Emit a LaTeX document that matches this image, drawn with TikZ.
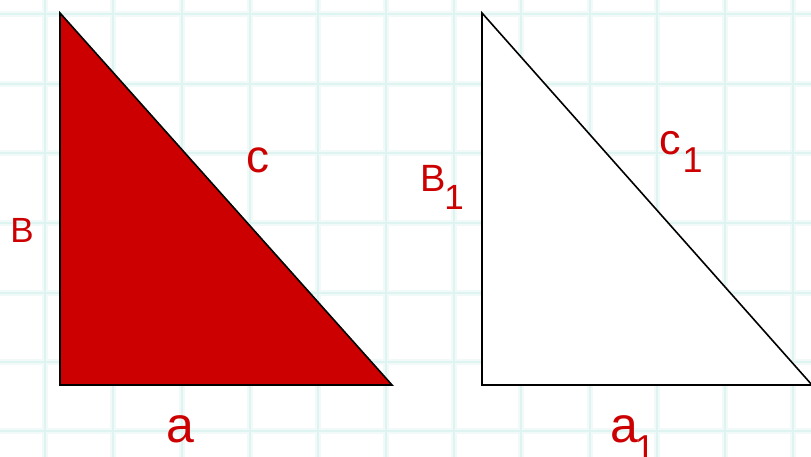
\documentclass[tikz,border=0pt]{standalone}
\usepackage{fontspec}
\setmainfont{Liberation Sans}
\definecolor{redfill}{RGB}{204,0,0}
\definecolor{gridc}{RGB}{222,244,241}
\definecolor{gridsoft}{RGB}{242,250,249}
\begin{document}
\begin{tikzpicture}[x=1pt,y=-1pt,
  gridsoftline/.style={draw=gridsoft,line width=6pt},
  gridline/.style={draw=gridc,line width=1.8pt},
  tri/.style={draw=black,line width=1.6pt,line join=miter},
  lbl/.style={text=redfill,inner sep=0pt,outer sep=0pt}]
\useasboundingbox (0,0) rectangle (811,457);
\fill[white] (0,0) rectangle (811,457);
% grid
\foreach \gx in {45,113,182,250,318,386,454,521,590,657,725,793}{
  \draw[gridsoftline] (\gx,0) -- (\gx,457);}
\foreach \gy in {14,84,153,223,293,362,431}{
  \draw[gridsoftline] (0,\gy) -- (811,\gy);}
\foreach \gx in {45,113,182,250,318,386,454,521,590,657,725,793}{
  \draw[gridline] (\gx,0) -- (\gx,457);}
\foreach \gy in {14,84,153,223,293,362,431}{
  \draw[gridline] (0,\gy) -- (811,\gy);}
% triangles
\coordinate (ta) at (60,13);
\coordinate (tb) at (60,385);
\coordinate (tc) at (392,385);
\coordinate (ua) at (482,13);
\coordinate (ub) at (482,385);
\coordinate (uc) at (812,385);
\draw[tri,fill=redfill] (ta) -- (tb) -- (tc) -- cycle;
\draw[tri,fill=white] (ua) -- (ub) -- (uc) -- cycle;
% labels
\node[lbl,anchor=base,font=\fontsize{35}{35}\selectfont] (lB) at (22,243) {B};
\node[lbl,anchor=base,font=\fontsize{50}{50}\selectfont] (la) at (180,442) {a};
\node[lbl,anchor=base,font=\fontsize{46}{46}\selectfont] (lc) at (257.5,173) {c};
\node[lbl,anchor=base west,font=\fontsize{38}{38}\selectfont] (lB1) at (420,192)
  {B\kern-1pt\raisebox{-18pt}{\fontsize{35}{35}\selectfont 1}};
\node[lbl,anchor=base west,font=\fontsize{43}{43}\selectfont] (lc1) at (659,155)
  {c\kern2pt\raisebox{-18pt}{\fontsize{36}{36}\selectfont 1}};
\node[lbl,anchor=base west,font=\fontsize{50}{50}\selectfont] (la1) at (610,442)
  {a\kern-3pt\raisebox{-18pt}{\fontsize{36}{36}\selectfont 1}};
\end{tikzpicture}
\end{document}
